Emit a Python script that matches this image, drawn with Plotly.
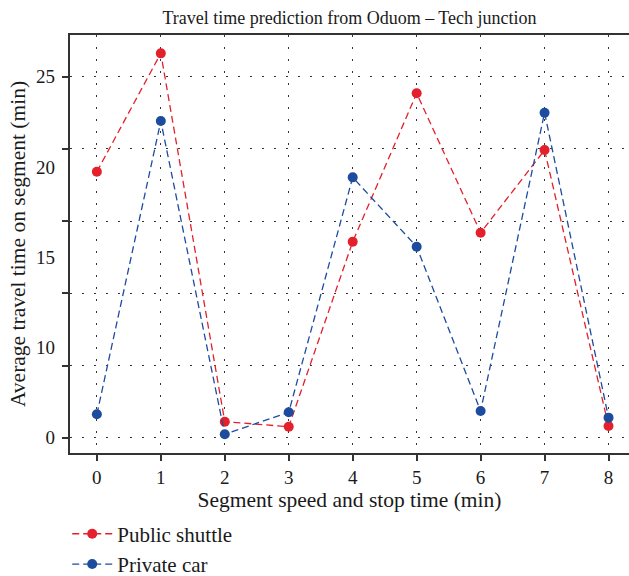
import plotly.graph_objects as go

segments = [0, 1, 2, 3, 4, 5, 6, 7, 8]
public_shuttle = [18.42, 26.62, 1.11, 0.76, 13.57, 23.85, 14.2, 19.92, 0.81]
private_car = [1.62, 21.93, 0.24, 1.76, 18.03, 13.23, 1.85, 22.51, 1.39]

grid_vals = [0, 5, 10, 15, 20, 25]
label_vals = [0, 6.25, 12.5, 18.75, 25]
label_text = ["0", "10", "15", "20", "25"]

RED = "#E3202B"
BLUE = "#1D4B9E"
FONT = "Liberation Serif"
YR = [-1.06, 27.89]

fig = go.Figure()
fig.add_trace(go.Scatter(
    x=segments, y=public_shuttle, name="Public shuttle", mode="lines+markers",
    line=dict(color=RED, width=1.3, dash="7px,4px"),
    marker=dict(color=RED, size=10)))
fig.add_trace(go.Scatter(
    x=segments, y=private_car, name="Private car", mode="lines+markers",
    line=dict(color=BLUE, width=1.3, dash="7px,4px"),
    marker=dict(color=BLUE, size=10)))
fig.add_trace(go.Scatter(x=[None], y=[None], yaxis="y2", showlegend=False,
                         hoverinfo="skip"))

fig.update_layout(
    width=629, height=576,
    margin=dict(l=70, r=0, t=35, b=123, autoexpand=False),
    paper_bgcolor="white", plot_bgcolor="white",
    font=dict(family=FONT, size=19, color="#1a1a1a"),
    title=dict(text="Travel time prediction from Oduom \u2013 Tech junction",
               x=0.5, xref="paper", y=1 - 18 / 576, yref="container",
               xanchor="center", yanchor="middle",
               font=dict(family=FONT, size=18, color="#1a1a1a")),
    xaxis=dict(
        range=[-0.42, 8.32], tickvals=segments, ticks="outside", ticklen=6,
        tickwidth=1.5, tickcolor="#333", showline=True, linecolor="#333",
        linewidth=2, mirror=True, zeroline=False, automargin=False,
        showgrid=True, gridcolor="#333", gridwidth=1.3, griddash="1.5px,10.5px",
        tickfont=dict(family=FONT, size=19),
        title=dict(text="Segment speed and stop time (min)", standoff=4,
                   font=dict(family=FONT, size=21.5))),
    yaxis=dict(
        range=YR, tickvals=grid_vals, ticktext=[""] * len(grid_vals),
        ticks="outside", ticklen=6, tickwidth=1.5, tickcolor="#333",
        showline=True, linecolor="#333", linewidth=2, zeroline=False,
        automargin=False,
        showgrid=True, gridcolor="#333", gridwidth=1.3, griddash="1.5px,10.5px",
        title=dict(text="")),
    yaxis2=dict(
        range=YR, overlaying="y", side="left", anchor="x", automargin=False,
        tickvals=label_vals, ticktext=label_text, ticks="", ticklabelstandoff=14,
        showgrid=False, showline=False, zeroline=False,
        tickfont=dict(family=FONT, size=19),
        title=dict(text="Average travel time on segment (min)", standoff=4,
                   font=dict(family=FONT, size=21.5))),
    legend=dict(x=-0.005, xanchor="left", y=-0.145, yanchor="top",
                bgcolor="rgba(0,0,0,0)", font=dict(family=FONT, size=21),
                tracegroupgap=0, itemwidth=40),
    showlegend=True,
)

fig.write_html("out.html")
